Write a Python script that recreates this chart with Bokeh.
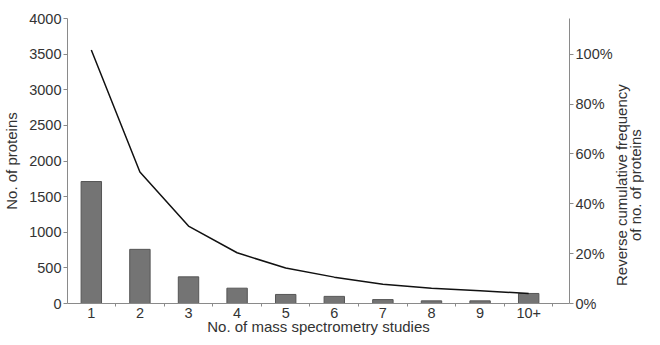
from bokeh.plotting import figure
from bokeh.models import Range1d, LinearAxis, FixedTicker, NumeralTickFormatter, Div
from bokeh.layouts import row
from bokeh.embed import file_html
from bokeh.resources import INLINE

categories = ["1", "2", "3", "4", "5", "6", "7", "8", "9", "10+"]
positions = [1, 2, 3, 4, 5, 6, 7, 8, 9, 10]
protein_counts = [1712, 760, 374, 215, 127, 100, 55, 37, 37, 141]
reverse_cumulative = [3558, 1846, 1086, 712, 497, 370, 270, 215, 178, 141]
left_ticks = [0, 500, 1000, 1500, 2000, 2500, 3000, 3500, 4000]
right_ticks = [0, 0.2, 0.4, 0.6, 0.8, 1.0]
right_title_lines = ["Reverse cumulative frequency", "of no. of proteins"]

FONT = "Liberation Sans"
TXT = "#333333"
AX = "#8a8a8a"
FS = "14.5px"
FS_LABEL = "15px"
TITLE_W = 29
TOTAL_W = 644
H = 337

p = figure(width=TOTAL_W - TITLE_W, height=H, output_backend="svg", toolbar_location=None,
           x_range=Range1d(0.51, 10.84), y_range=Range1d(0, 4000),
           min_border_top=18, min_border_left=60, min_border_right=40, min_border_bottom=2)
p.outline_line_color = None
p.xgrid.visible = False
p.ygrid.visible = False
p.background_fill_color = "white"
p.border_fill_color = "white"

p.extra_y_ranges = {"pct": Range1d(0, 4000 / 3500)}

p.vbar(x=positions, top=protein_counts, width=0.42, fill_color="#747474",
       line_color="#565656", line_width=1)
p.line(positions, reverse_cumulative, line_color="#111111", line_width=1.5)

# bottom axis
xa = p.xaxis[0]
xa.ticker = FixedTicker(ticks=positions, minor_ticks=[i + 0.5 for i in range(0, 11)])
xa.major_label_overrides = {pos: lab for pos, lab in zip(positions, categories)}
xa.major_tick_out = 0
xa.major_tick_in = 0
xa.minor_tick_out = 3
xa.minor_tick_in = 0
xa.minor_tick_line_color = AX
xa.axis_line_color = AX
xa.axis_label = "No. of mass spectrometry studies"
xa.major_label_standoff = 1
xa.axis_label_standoff = -3

# left axis
ya = p.yaxis[0]
ya.ticker = FixedTicker(ticks=left_ticks)
ya.minor_tick_line_color = None
ya.major_tick_out = 4
ya.major_tick_in = 0
ya.major_tick_line_color = AX
ya.axis_line_color = AX
ya.axis_label = "No. of proteins"
ya.major_label_standoff = 2
ya.axis_label_standoff = 6

# right axis
ra = LinearAxis(y_range_name="pct", ticker=FixedTicker(ticks=right_ticks),
                formatter=NumeralTickFormatter(format="0%"))
ra.minor_tick_line_color = None
ra.major_tick_out = 4
ra.major_tick_in = 0
ra.major_tick_line_color = AX
ra.axis_line_color = AX
ra.major_label_standoff = 2
p.add_layout(ra, "right")

for ax in [xa, ya, ra]:
    ax.major_label_text_font = FONT
    ax.major_label_text_font_size = FS
    ax.major_label_text_color = TXT
    ax.axis_label_text_font = FONT
    ax.axis_label_text_font_size = FS_LABEL
    ax.axis_label_text_font_style = "normal"
    ax.axis_label_text_color = TXT

# right-hand title, reading bottom-to-top
title_html = (
    '<div style="writing-mode: vertical-rl; transform: rotate(180deg); '
    'height: 230px; margin-top: 70px; text-align: center; white-space: nowrap; '
    f'font-family: \'{FONT}\'; font-size: {FS_LABEL}; line-height: 14px; color: {TXT};">'
    + "<br>".join(right_title_lines) + "</div>"
)
right_title = Div(text=title_html, width=TITLE_W, height=H, margin=(0, 0, 0, 0))

layout = row(p, right_title, spacing=0)
open("out.html", "w").write(file_html(layout, INLINE))
